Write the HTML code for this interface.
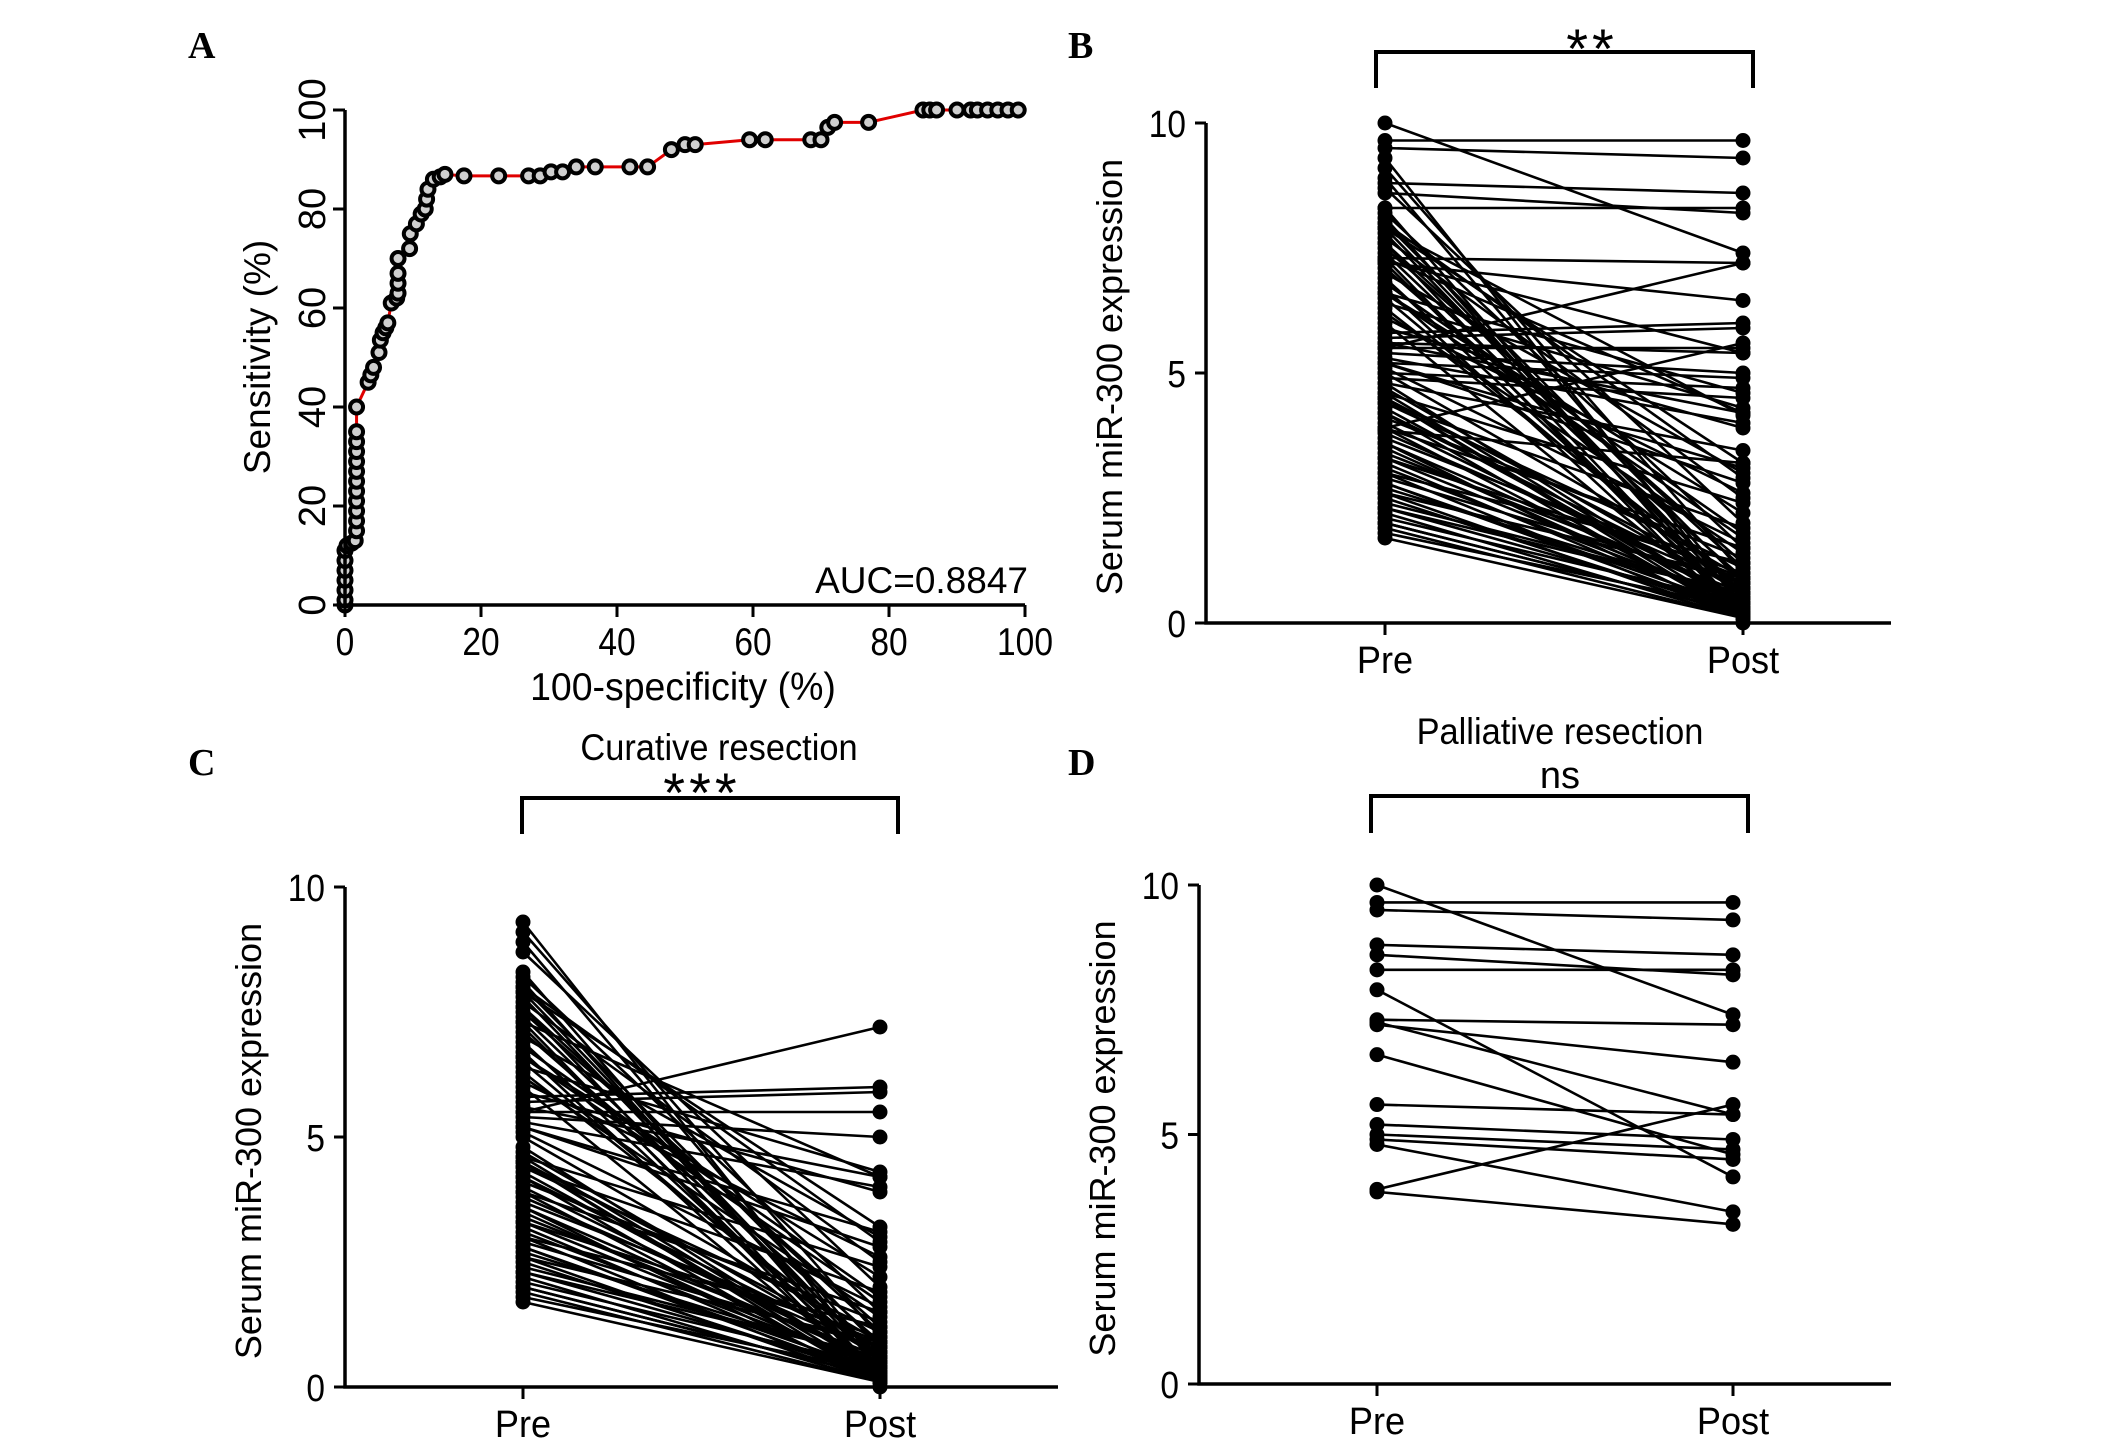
<!DOCTYPE html>
<html><head><meta charset="utf-8"><style>
html,body{margin:0;padding:0;background:#fff;}
svg{display:block;}
text{font-family:"Liberation Sans",Arial,sans-serif;fill:#000;}
.lbl{font-family:"Liberation Serif",serif;font-weight:bold;font-size:38px;}
</style></head><body>
<svg id="fig" width="2126" height="1446" viewBox="0 0 2126 1446" xmlns="http://www.w3.org/2000/svg">
<text class="lbl" x="188" y="58">A</text>
<text class="lbl" x="1068" y="58">B</text>
<text class="lbl" x="188" y="775">C</text>
<text class="lbl" x="1068" y="775">D</text>
<g id="pa"></g>
<g id="pb"></g>
<g id="pc"></g>
<g id="pd"></g>
</svg>
<script>
const rocX=[0,0,0,0,0,0,0,0.3,1,1.5,1.7,1.7,1.7,1.7,1.7,1.7,1.7,1.7,1.7,1.7,1.7,1.7,3.4,3.8,4.2,5,5.2,5.6,6,6.3,6.8,7.6,7.8,7.8,7.8,7.8,9.5,9.6,10.5,11.2,11.8,12,12.2,13,14,14.7,17.5,22.6,27,28.7,30.3,32,34,36.8,41.9,44.5,48,50,51.5,59.5,61.8,68.5,70,71,72,77,85,86,87,90,92,93,94.5,96,97.5,99];
const rocY=[0,1,3,5,7,9,11,12,12.5,13,15,17,19,21,23,25,27,29,31,33,35,40,45,46.5,48,51,53.5,55,56,57,61,62,63,65,67,70,72,75,77,79,80,82,84,86,86.5,87,86.7,86.7,86.7,86.7,87.5,87.5,88.5,88.5,88.5,88.5,92,93,93,94,94,94,94,96.5,97.5,97.5,100,100,100,100,100,100,100,100,100,100];
const xTicksA=[0,20,40,60,80,100];
const yTicksA=[0,20,40,60,80,100];
const curPre=[9.3,9.1,8.9,8.7,8.3,8.2,8.1,8.0,7.9,7.8,7.7,7.6,7.5,7.4,7.3,7.2,7.1,7.0,6.9,6.8,6.7,6.6,6.5,6.4,6.3,6.2,6.0,5.9,5.8,5.7,5.6,5.5,5.5,5.4,5.3,5.2,5.1,5.0,4.7,4.6,4.6,4.5,4.5,4.4,4.3,4.2,4.1,4.0,3.9,3.8,3.7,3.6,3.5,3.4,3.3,3.2,3.1,3.0,2.9,2.8,2.7,2.6,2.5,2.4,2.3,2.2,2.1,2.0,1.9,1.8,1.7,4.4,3.6,2.8,6.6,7.3,8.0,7.6,4.2,3.9,3.3,2.6,2.3,2.0,4.5,3.0,6.1,7.9,5.2,4.8];
const curPost=[0.3,1.0,0.5,2.0,0.1,1.5,0.2,0.8,3.2,0.4,2.5,0.1,1.2,0.6,4.2,0.2,0.9,3.0,0.3,1.8,0.1,2.2,0.5,4.3,0.7,1.4,0.2,3.9,6.0,5.9,4.2,7.2,5.5,5.0,4.0,2.8,1.6,0.9,0.6,0.3,2.4,0.8,0.2,1.1,0.4,0.1,1.3,0.5,0.2,0.7,0.9,0.1,0.3,0.6,1.0,0.2,0.4,0.1,0.8,0.3,0.5,0.1,0.2,0.6,0.3,0.1,0.4,0.2,0.1,0.3,0.1,1.9,0.5,0.2,1.7,0.0,2.9,1.1,0.7,1.5,0.4,0.9,0.6,0.2,0.1,1.2,2.6,0.5,3.1,0.3];
const palPre=[10,9.65,9.5,8.8,8.6,8.3,7.9,7.3,7.2,7.25,6.6,5.6,5.2,5.0,4.9,4.8,3.9,3.85];
const palPost=[7.4,9.65,9.3,8.6,8.2,8.3,4.15,7.2,6.45,5.4,4.6,5.4,4.9,4.7,4.5,3.45,5.6,3.2];
const yTicksB=[0,5,10];
const groups=["Pre","Post"];
const NS="http://www.w3.org/2000/svg";
function mk(parent,tag,attrs,txt){const e=document.createElementNS(NS,tag);for(const k in attrs)e.setAttribute(k,attrs[k]);if(txt!==undefined)e.textContent=txt;parent.appendChild(e);return e;}

// Panel A
(function(){
  const g=document.getElementById('pa');
  const x0=345,x1=1025,y0=605,y1=110;
  const sx=v=>x0+(x1-x0)*v/100, sy=v=>y0-(y0-y1)*v/100;
  let d='';rocX.forEach((v,i)=>{d+=(i?'L':'M')+sx(v)+','+sy(rocY[i]);});
  const ln=mk(g,'path',{d:d,fill:'none',stroke:'#e00000','stroke-width':3});
  
  
  rocX.forEach((v,i)=>{const c=mk(g,'circle',{cx:sx(v),cy:sy(rocY[i]),r:6.5,fill:'#cfcfcf',stroke:'#000','stroke-width':4});
    
    });
  const ax=mk(g,'path',{d:`M${x0},${y1}V${y0}H${x1}`,fill:'none',stroke:'#000','stroke-width':3.5});
  
  
  xTicksA.forEach(v=>{mk(g,'line',{x1:sx(v),x2:sx(v),y1:y0,y2:y0+12,stroke:'#000','stroke-width':3});
    const t=mk(g,'text',{x:0,y:0,'font-size':39,'text-anchor':'middle',transform:`translate(${sx(v)},655) scale(0.86,1)`},String(v));
    
    });
  yTicksA.forEach(v=>{mk(g,'line',{x1:x0-12,x2:x0,y1:sy(v),y2:sy(v),stroke:'#000','stroke-width':3});
    const t=mk(g,'text',{x:0,y:0,'font-size':38,'text-anchor':'middle',transform:`translate(325,${sy(v)}) rotate(-90)`},String(v));
    
    });
  const xt=mk(g,'text',{x:0,y:0,'font-size':39,'text-anchor':'middle',transform:'translate(683,700) scale(0.96,1)'},'100-specificity (%)');
  
  
  const yt=mk(g,'text',{x:0,y:0,'font-size':37,'text-anchor':'middle',transform:'translate(270,357) rotate(-90)'},'Sensitivity (%)');
  
  
  const au=mk(g,'text',{x:1028,y:593,'font-size':37,'text-anchor':'end'},'AUC=0.8847');
  
  
})();

function paired(id,pre,post,o){
  const g=document.getElementById(id);
  const sy=v=>o.y0-(o.y0-o.y10)*v/10;
  const px=[o.pre,o.post];
  pre.forEach((v,i)=>{const l=mk(g,'line',{x1:px[0],y1:sy(v),x2:px[1],y2:sy(post[i]),stroke:'#000','stroke-width':2.6});
    
    });
  pre.forEach((v,i)=>{[v,post[i]].forEach((w,j)=>{const c=mk(g,'circle',{cx:px[j],cy:sy(w),r:7.5,fill:'#000'});
    
    });});
  const ax=mk(g,'path',{d:`M${o.ax},${o.y10}V${o.y0}H${o.xend}`,fill:'none',stroke:'#000','stroke-width':3.5});
  
  
  yTicksB.forEach(v=>{mk(g,'line',{x1:o.ax-11,x2:o.ax,y1:sy(v),y2:sy(v),stroke:'#000','stroke-width':3});
    const t=mk(g,'text',{x:0,y:0,'font-size':38,'text-anchor':'end',transform:`translate(${o.ax-20},${sy(v)+14}) scale(0.88,1)`},String(v));
    
    });
  groups.forEach((gname,j)=>{mk(g,'line',{x1:px[j],x2:px[j],y1:o.y0,y2:o.y0+12,stroke:'#000','stroke-width':3});
    const t=mk(g,'text',{x:0,y:0,'font-size':38,'text-anchor':'middle',transform:`translate(${px[j]},${o.y0+50}) scale(0.95,1)`},gname);
    
    });
  const yt=mk(g,'text',{x:0,y:0,'font-size':36,'text-anchor':'middle',transform:`translate(${o.ax-84},${(o.y0+o.y10)/2+4}) rotate(-90)`},'Serum miR-300 expression');
  
  
  const br=mk(g,'path',{d:`M${o.bl},${o.bb}V${o.bt}H${o.br}V${o.bb}`,fill:'none',stroke:'#000','stroke-width':4});
  
  
  const st=mk(g,'text',{x:o.sx,y:o.sy,'font-size':o.sfs,'text-anchor':'middle','font-family':o.sfam,'letter-spacing':o.ls},o.stars);
  
  
  if(o.title){const tt=mk(g,'text',{x:0,y:0,'font-size':37,'text-anchor':'middle',transform:`translate(${o.tx},${o.ty}) scale(0.93,1)`},o.title);
    
    }
}
paired('pb',curPre.concat(palPre),curPost.concat(palPost),{ax:1206,y0:623,y10:123,pre:1385,post:1743,xend:1891,bl:1376,br:1753,bt:52,bb:88,sx:1592,sy:68,sfs:56,ls:4,sfam:'"Liberation Serif",serif',stars:'**'});
paired('pc',curPre,curPost,{ax:345,y0:1387,y10:887,pre:523,post:880,xend:1058,bl:522,br:898,bt:798,bb:834,sx:702,sy:812,sfs:56,ls:4,sfam:'"Liberation Serif",serif',stars:'***',title:'Curative resection',tx:719,ty:760});
paired('pd',palPre,palPost,{ax:1199,y0:1384,y10:885,pre:1377,post:1733,xend:1891,bl:1371,br:1748,bt:796,bb:833,sx:1560,sy:788,sfs:38,ls:0,sfam:'"Liberation Sans",sans-serif',stars:'ns',title:'Palliative resection',tx:1560,ty:744});
</script>
</body></html>
